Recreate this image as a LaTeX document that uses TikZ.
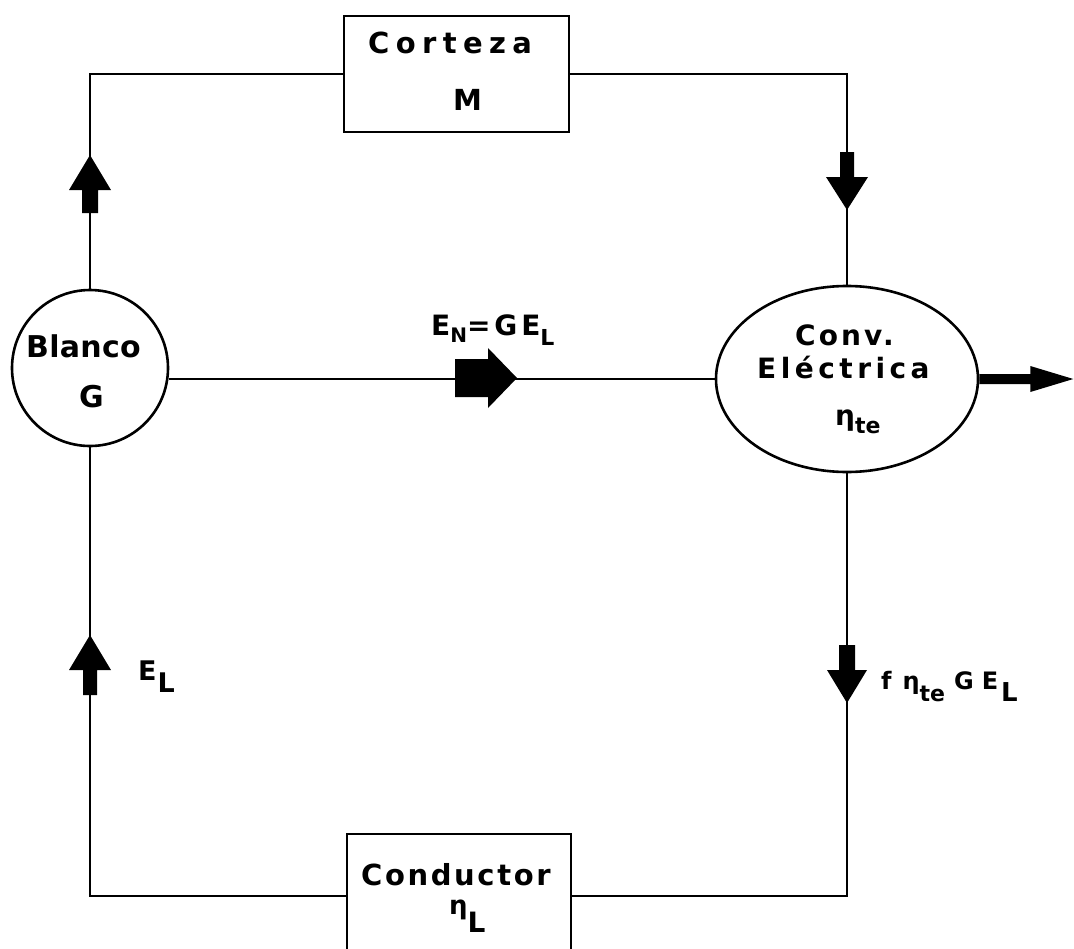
\documentclass[tikz,border=0pt]{standalone}
\usepackage{fontspec}
\setmainfont{DejaVu Sans}[BoldFont={DejaVu Sans Bold}]
\usetikzlibrary{shapes.geometric}
\newcommand\lsp[1]{\addfontfeature{LetterSpace=#1}}
\newcommand\fsz[1]{\fontsize{#1bp}{#1bp}\selectfont}
\newcommand\lowr[3]{\raisebox{-#1bp}{\fsz{#2}#3}}
\begin{document}
\begin{tikzpicture}[x=1bp,y=-1bp, line width=2.3bp,
  txt/.style={inner sep=0pt, anchor=base west},
  fat/.style={fill=black, draw=none},
  blk/.style={draw, line width=2.6bp, inner sep=0pt}]
\useasboundingbox (0,0) rectangle (1074,949);
\clip (0,0) rectangle (1074,949);

% shapes
\node[blk, rectangle, minimum width=225bp, minimum height=116bp] (corteza) at (456.5,74) {};
\node[blk, circle, minimum size=156bp] (blanco) at (90,368) {};
\node[blk, ellipse, minimum width=262bp, minimum height=186bp] (conv) at (847,379) {};
\node[blk, rectangle, minimum width=224bp, minimum height=124bp] (cond) at (459,896) {};

% connectors
\draw (blanco.north) |- (corteza.west);
\draw (corteza.east) -| (conv.north);
\coordinate (m) at (blanco.east |- conv.west);
\draw (m) -- (conv.west);
\draw (blanco.south) |- (cond.west);
\draw (conv.south) |- (cond.east);

% fat arrows
\fill[fat] (90,155) -- (111,190) -- (98,190) -- (98,213) -- (82,213) -- (82,190) -- (69,190) -- cycle;
\fill[fat] (90,635) -- (111,670) -- (97,670) -- (97,695) -- (83,695) -- (83,670) -- (69,670) -- cycle;
\fill[fat] (847,210) -- (868,177) -- (854,177) -- (854,152) -- (840,152) -- (840,177) -- (826,177) -- cycle;
\fill[fat] (847,703) -- (867,670) -- (855,670) -- (855,645) -- (839,645) -- (839,670) -- (827,670) -- cycle;
\fill[fat] (517,378) -- (488,348) -- (488,359) -- (455,359) -- (455,397) -- (488,397) -- (488,408) -- cycle;
\fill[fat] (conv.east) ++(0,-5) -- ++(51,0) -- ++(0,-8) -- ++(43,13) -- ++(-43,13) -- ++(0,-8) -- ++(-51,0) -- cycle;

% texts
\node[txt, font=\bfseries\fsz{29}\lsp{22}] (tcort) at (367,53) {Corteza};
\node[txt, font=\bfseries\fsz{29}] (tm) at (452,110) {M};
\node[txt, font=\bfseries\fsz{30}\lsp{1}] (tbl) at (25,357) {Blanco};
\node[txt, font=\bfseries\fsz{30}] (tg) at (78,407) {G};
\node[txt, font=\bfseries\fsz{28}\lsp{11}] (tconv) at (794,345) {Conv.};
\node[txt, font=\bfseries\fsz{28}\lsp{16}] (telec) at (756,378) {Eléctrica};
\node[txt, font=\bfseries\fsz{28}] (teta) at (834,425) {η\lowr{8}{22}{te}};
\node[txt, font=\bfseries\fsz{28}\lsp{14}] (ten) at (430,335) {E\lowr{7}{20}{N}=GE\lowr{10}{22}{L}};
\node[txt, font=\bfseries\fsz{27}] (tel) at (137,680) {E\hspace{1bp}\lowr{12}{27}{L}};
\node[txt, font=\bfseries\fsz{24}] (tf) at (880,689) {f\hspace{11bp}η\lowr{12}{22}{te}\hspace{9bp}G\hspace{8bp}E\hspace{3bp}\lowr{12}{26}{L}};
\node[txt, font=\bfseries\fsz{29}\lsp{9}] (tcond) at (360,885) {Conductor};
\node[txt, font=\bfseries\fsz{26}] (tetal) at (448,914) {η\lowr{18}{28}{L}};
\end{tikzpicture}
\end{document}
